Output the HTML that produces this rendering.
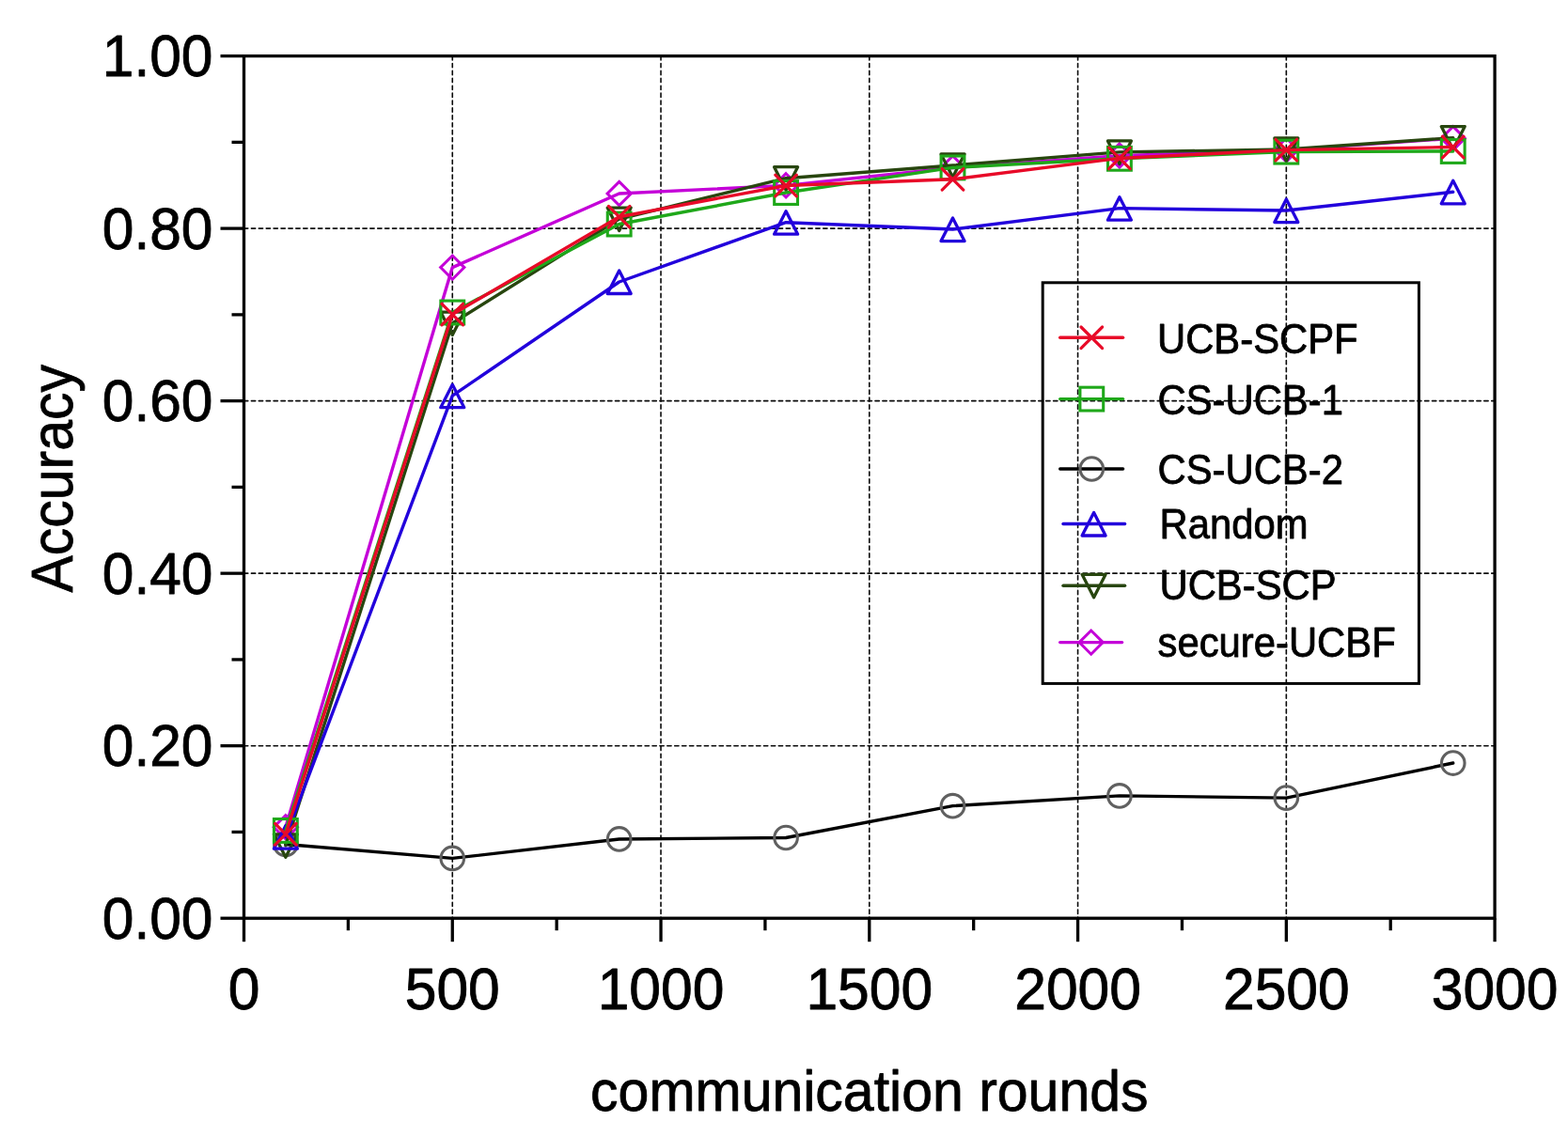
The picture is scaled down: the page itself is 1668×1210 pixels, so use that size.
<!DOCTYPE html>
<html lang="en"><head><meta charset="utf-8"><title>Accuracy vs communication rounds</title>
<style>html,body{margin:0;padding:0;background:#fff}body{width:1668px;height:1210px;overflow:hidden}svg{display:block}text{font-family:"Liberation Sans",sans-serif;fill:#000}</style>
</head><body>
<svg width="1668" height="1210" viewBox="0 0 1668 1210">
<rect x="0" y="0" width="1668" height="1210" fill="#ffffff"/>
<g>
<line x1="481.27" y1="59.60" x2="481.27" y2="977.20" stroke="#0a0a0a" stroke-width="1.6" stroke-dasharray="4.3 3.6" stroke-linecap="round" fill="none"/>
<line x1="703.03" y1="59.60" x2="703.03" y2="977.20" stroke="#0a0a0a" stroke-width="1.6" stroke-dasharray="4.3 3.6" stroke-linecap="round" fill="none"/>
<line x1="924.80" y1="59.60" x2="924.80" y2="977.20" stroke="#0a0a0a" stroke-width="1.6" stroke-dasharray="4.3 3.6" stroke-linecap="round" fill="none"/>
<line x1="1146.57" y1="59.60" x2="1146.57" y2="977.20" stroke="#0a0a0a" stroke-width="1.6" stroke-dasharray="4.3 3.6" stroke-linecap="round" fill="none"/>
<line x1="1368.33" y1="59.60" x2="1368.33" y2="977.20" stroke="#0a0a0a" stroke-width="1.6" stroke-dasharray="4.3 3.6" stroke-linecap="round" fill="none"/>
<line x1="259.50" y1="793.68" x2="1590.10" y2="793.68" stroke="#0a0a0a" stroke-width="1.6" stroke-dasharray="4.3 3.6" stroke-linecap="round" fill="none"/>
<line x1="259.50" y1="610.16" x2="1590.10" y2="610.16" stroke="#0a0a0a" stroke-width="1.6" stroke-dasharray="4.3 3.6" stroke-linecap="round" fill="none"/>
<line x1="259.50" y1="426.64" x2="1590.10" y2="426.64" stroke="#0a0a0a" stroke-width="1.6" stroke-dasharray="4.3 3.6" stroke-linecap="round" fill="none"/>
<line x1="259.50" y1="243.12" x2="1590.10" y2="243.12" stroke="#0a0a0a" stroke-width="1.6" stroke-dasharray="4.3 3.6" stroke-linecap="round" fill="none"/>
</g>
<g>
<polyline points="303.85,898.47 481.27,913.43 658.68,892.96 836.09,891.50 1013.51,857.64 1190.92,846.90 1368.33,849.10 1545.75,812.03" fill="none" stroke="#000000" stroke-width="3.4" stroke-linejoin="round" stroke-linecap="round"/>
<circle cx="303.85" cy="898.47" r="12.3" fill="none" stroke="#606060" stroke-width="3.1"/>
<circle cx="481.27" cy="913.43" r="12.3" fill="none" stroke="#606060" stroke-width="3.1"/>
<circle cx="658.68" cy="892.96" r="12.3" fill="none" stroke="#606060" stroke-width="3.1"/>
<circle cx="836.09" cy="891.50" r="12.3" fill="none" stroke="#606060" stroke-width="3.1"/>
<circle cx="1013.51" cy="857.64" r="12.3" fill="none" stroke="#606060" stroke-width="3.1"/>
<circle cx="1190.92" cy="846.90" r="12.3" fill="none" stroke="#606060" stroke-width="3.1"/>
<circle cx="1368.33" cy="849.10" r="12.3" fill="none" stroke="#606060" stroke-width="3.1"/>
<circle cx="1545.75" cy="812.03" r="12.3" fill="none" stroke="#606060" stroke-width="3.1"/>
<polyline points="303.85,880.21 481.27,284.60 658.68,205.96 836.09,197.33 1013.51,178.52 1190.92,165.58 1368.33,159.62 1545.75,147.23" fill="none" stroke="#C400D8" stroke-width="3.4" stroke-linejoin="round" stroke-linecap="round"/>
<path d="M303.85 867.61L316.45 880.21L303.85 892.81L291.25 880.21Z" fill="none" stroke="#C400D8" stroke-width="3.0" stroke-linejoin="miter"/>
<path d="M481.27 272.00L493.87 284.60L481.27 297.20L468.67 284.60Z" fill="none" stroke="#C400D8" stroke-width="3.0" stroke-linejoin="miter"/>
<path d="M658.68 193.36L671.28 205.96L658.68 218.56L646.08 205.96Z" fill="none" stroke="#C400D8" stroke-width="3.0" stroke-linejoin="miter"/>
<path d="M836.09 184.73L848.69 197.33L836.09 209.93L823.49 197.33Z" fill="none" stroke="#C400D8" stroke-width="3.0" stroke-linejoin="miter"/>
<path d="M1013.51 165.92L1026.11 178.52L1013.51 191.12L1000.91 178.52Z" fill="none" stroke="#C400D8" stroke-width="3.0" stroke-linejoin="miter"/>
<path d="M1190.92 152.98L1203.52 165.58L1190.92 178.18L1178.32 165.58Z" fill="none" stroke="#C400D8" stroke-width="3.0" stroke-linejoin="miter"/>
<path d="M1368.33 147.02L1380.93 159.62L1368.33 172.22L1355.73 159.62Z" fill="none" stroke="#C400D8" stroke-width="3.0" stroke-linejoin="miter"/>
<path d="M1545.75 134.63L1558.35 147.23L1545.75 159.83L1533.15 147.23Z" fill="none" stroke="#C400D8" stroke-width="3.0" stroke-linejoin="miter"/>
<polyline points="303.85,899.85 481.27,344.06 658.68,233.03 836.09,189.72 1013.51,175.95 1190.92,161.91 1368.33,158.98 1545.75,146.59" fill="none" stroke="#28460F" stroke-width="3.4" stroke-linejoin="round" stroke-linecap="round"/>
<path d="M303.85 912.35L316.35 887.85L291.35 887.85Z" fill="none" stroke="#28460F" stroke-width="3.3" stroke-linejoin="round"/>
<path d="M481.27 356.56L493.77 332.06L468.77 332.06Z" fill="none" stroke="#28460F" stroke-width="3.3" stroke-linejoin="round"/>
<path d="M658.68 245.53L671.18 221.03L646.18 221.03Z" fill="none" stroke="#28460F" stroke-width="3.3" stroke-linejoin="round"/>
<path d="M836.09 202.22L848.59 177.72L823.59 177.72Z" fill="none" stroke="#28460F" stroke-width="3.3" stroke-linejoin="round"/>
<path d="M1013.51 188.45L1026.01 163.95L1001.01 163.95Z" fill="none" stroke="#28460F" stroke-width="3.3" stroke-linejoin="round"/>
<path d="M1190.92 174.41L1203.42 149.91L1178.42 149.91Z" fill="none" stroke="#28460F" stroke-width="3.3" stroke-linejoin="round"/>
<path d="M1368.33 171.48L1380.83 146.98L1355.83 146.98Z" fill="none" stroke="#28460F" stroke-width="3.3" stroke-linejoin="round"/>
<path d="M1545.75 159.09L1558.25 134.59L1533.25 134.59Z" fill="none" stroke="#28460F" stroke-width="3.3" stroke-linejoin="round"/>
<polyline points="303.85,890.67 481.27,421.13 658.68,300.01 836.09,236.70 1013.51,244.04 1190.92,221.65 1368.33,224.03 1545.75,204.31" fill="none" stroke="#2200DC" stroke-width="3.4" stroke-linejoin="round" stroke-linecap="round"/>
<path d="M303.85 878.67L316.35 903.17L291.35 903.17Z" fill="none" stroke="#2200DC" stroke-width="3.3" stroke-linejoin="round"/>
<path d="M481.27 409.13L493.77 433.63L468.77 433.63Z" fill="none" stroke="#2200DC" stroke-width="3.3" stroke-linejoin="round"/>
<path d="M658.68 288.01L671.18 312.51L646.18 312.51Z" fill="none" stroke="#2200DC" stroke-width="3.3" stroke-linejoin="round"/>
<path d="M836.09 224.70L848.59 249.20L823.59 249.20Z" fill="none" stroke="#2200DC" stroke-width="3.3" stroke-linejoin="round"/>
<path d="M1013.51 232.04L1026.01 256.54L1001.01 256.54Z" fill="none" stroke="#2200DC" stroke-width="3.3" stroke-linejoin="round"/>
<path d="M1190.92 209.65L1203.42 234.15L1178.42 234.15Z" fill="none" stroke="#2200DC" stroke-width="3.3" stroke-linejoin="round"/>
<path d="M1368.33 212.03L1380.83 236.53L1355.83 236.53Z" fill="none" stroke="#2200DC" stroke-width="3.3" stroke-linejoin="round"/>
<path d="M1545.75 192.31L1558.25 216.81L1533.25 216.81Z" fill="none" stroke="#2200DC" stroke-width="3.3" stroke-linejoin="round"/>
<polyline points="303.85,883.97 481.27,332.49 658.68,238.53 836.09,205.04 1013.51,178.43 1190.92,168.79 1368.33,161.64 1545.75,160.99" fill="none" stroke="#1FA81A" stroke-width="3.4" stroke-linejoin="round" stroke-linecap="round"/>
<rect x="291.45" y="871.57" width="24.80" height="24.80" fill="none" stroke="#1FA81A" stroke-width="3.1" stroke-linejoin="miter"/>
<rect x="468.87" y="320.09" width="24.80" height="24.80" fill="none" stroke="#1FA81A" stroke-width="3.1" stroke-linejoin="miter"/>
<rect x="646.28" y="226.13" width="24.80" height="24.80" fill="none" stroke="#1FA81A" stroke-width="3.1" stroke-linejoin="miter"/>
<rect x="823.69" y="192.64" width="24.80" height="24.80" fill="none" stroke="#1FA81A" stroke-width="3.1" stroke-linejoin="miter"/>
<rect x="1001.11" y="166.03" width="24.80" height="24.80" fill="none" stroke="#1FA81A" stroke-width="3.1" stroke-linejoin="miter"/>
<rect x="1178.52" y="156.39" width="24.80" height="24.80" fill="none" stroke="#1FA81A" stroke-width="3.1" stroke-linejoin="miter"/>
<rect x="1355.93" y="149.24" width="24.80" height="24.80" fill="none" stroke="#1FA81A" stroke-width="3.1" stroke-linejoin="miter"/>
<rect x="1533.35" y="148.59" width="24.80" height="24.80" fill="none" stroke="#1FA81A" stroke-width="3.1" stroke-linejoin="miter"/>
<polyline points="303.85,887.73 481.27,334.60 658.68,230.73 836.09,197.52 1013.51,190.82 1190.92,168.43 1368.33,159.62 1545.75,156.50" fill="none" stroke="#E80A28" stroke-width="3.4" stroke-linejoin="round" stroke-linecap="round"/>
<path d="M292.55 876.43L315.15 899.03M292.55 899.03L315.15 876.43" fill="none" stroke="#E80A28" stroke-width="3.2" stroke-linecap="round"/>
<path d="M469.97 323.30L492.57 345.90M469.97 345.90L492.57 323.30" fill="none" stroke="#E80A28" stroke-width="3.2" stroke-linecap="round"/>
<path d="M647.38 219.43L669.98 242.03M647.38 242.03L669.98 219.43" fill="none" stroke="#E80A28" stroke-width="3.2" stroke-linecap="round"/>
<path d="M824.79 186.22L847.39 208.82M824.79 208.82L847.39 186.22" fill="none" stroke="#E80A28" stroke-width="3.2" stroke-linecap="round"/>
<path d="M1002.21 179.52L1024.81 202.12M1002.21 202.12L1024.81 179.52" fill="none" stroke="#E80A28" stroke-width="3.2" stroke-linecap="round"/>
<path d="M1179.62 157.13L1202.22 179.73M1179.62 179.73L1202.22 157.13" fill="none" stroke="#E80A28" stroke-width="3.2" stroke-linecap="round"/>
<path d="M1357.03 148.32L1379.63 170.92M1357.03 170.92L1379.63 148.32" fill="none" stroke="#E80A28" stroke-width="3.2" stroke-linecap="round"/>
<path d="M1534.45 145.20L1557.05 167.80M1534.45 167.80L1557.05 145.20" fill="none" stroke="#E80A28" stroke-width="3.2" stroke-linecap="round"/>
</g>
<g>
<rect x="259.50" y="59.60" width="1330.60" height="917.60" stroke="#000" stroke-width="3.3" fill="none"/>
<line x1="234.50" y1="977.20" x2="259.50" y2="977.20" stroke="#000" stroke-width="3.3" fill="none"/>
<line x1="246.50" y1="885.44" x2="259.50" y2="885.44" stroke="#000" stroke-width="3.3" fill="none"/>
<line x1="234.50" y1="793.68" x2="259.50" y2="793.68" stroke="#000" stroke-width="3.3" fill="none"/>
<line x1="246.50" y1="701.92" x2="259.50" y2="701.92" stroke="#000" stroke-width="3.3" fill="none"/>
<line x1="234.50" y1="610.16" x2="259.50" y2="610.16" stroke="#000" stroke-width="3.3" fill="none"/>
<line x1="246.50" y1="518.40" x2="259.50" y2="518.40" stroke="#000" stroke-width="3.3" fill="none"/>
<line x1="234.50" y1="426.64" x2="259.50" y2="426.64" stroke="#000" stroke-width="3.3" fill="none"/>
<line x1="246.50" y1="334.88" x2="259.50" y2="334.88" stroke="#000" stroke-width="3.3" fill="none"/>
<line x1="234.50" y1="243.12" x2="259.50" y2="243.12" stroke="#000" stroke-width="3.3" fill="none"/>
<line x1="246.50" y1="151.36" x2="259.50" y2="151.36" stroke="#000" stroke-width="3.3" fill="none"/>
<line x1="234.50" y1="59.60" x2="259.50" y2="59.60" stroke="#000" stroke-width="3.3" fill="none"/>
<line x1="259.50" y1="977.20" x2="259.50" y2="1002.20" stroke="#000" stroke-width="3.3" fill="none"/>
<line x1="370.38" y1="977.20" x2="370.38" y2="990.20" stroke="#000" stroke-width="3.3" fill="none"/>
<line x1="481.27" y1="977.20" x2="481.27" y2="1002.20" stroke="#000" stroke-width="3.3" fill="none"/>
<line x1="592.15" y1="977.20" x2="592.15" y2="990.20" stroke="#000" stroke-width="3.3" fill="none"/>
<line x1="703.03" y1="977.20" x2="703.03" y2="1002.20" stroke="#000" stroke-width="3.3" fill="none"/>
<line x1="813.92" y1="977.20" x2="813.92" y2="990.20" stroke="#000" stroke-width="3.3" fill="none"/>
<line x1="924.80" y1="977.20" x2="924.80" y2="1002.20" stroke="#000" stroke-width="3.3" fill="none"/>
<line x1="1035.68" y1="977.20" x2="1035.68" y2="990.20" stroke="#000" stroke-width="3.3" fill="none"/>
<line x1="1146.57" y1="977.20" x2="1146.57" y2="1002.20" stroke="#000" stroke-width="3.3" fill="none"/>
<line x1="1257.45" y1="977.20" x2="1257.45" y2="990.20" stroke="#000" stroke-width="3.3" fill="none"/>
<line x1="1368.33" y1="977.20" x2="1368.33" y2="1002.20" stroke="#000" stroke-width="3.3" fill="none"/>
<line x1="1479.22" y1="977.20" x2="1479.22" y2="990.20" stroke="#000" stroke-width="3.3" fill="none"/>
<line x1="1590.10" y1="977.20" x2="1590.10" y2="1002.20" stroke="#000" stroke-width="3.3" fill="none"/>
</g>
<g>
<text transform="translate(226.50 998.60) scale(1 1.045)" font-size="60.5" text-anchor="end" stroke="#000" stroke-width="0.8" stroke-linejoin="round">0.00</text>
<text transform="translate(226.50 815.08) scale(1 1.045)" font-size="60.5" text-anchor="end" stroke="#000" stroke-width="0.8" stroke-linejoin="round">0.20</text>
<text transform="translate(226.50 631.56) scale(1 1.045)" font-size="60.5" text-anchor="end" stroke="#000" stroke-width="0.8" stroke-linejoin="round">0.40</text>
<text transform="translate(226.50 448.04) scale(1 1.045)" font-size="60.5" text-anchor="end" stroke="#000" stroke-width="0.8" stroke-linejoin="round">0.60</text>
<text transform="translate(226.50 264.52) scale(1 1.045)" font-size="60.5" text-anchor="end" stroke="#000" stroke-width="0.8" stroke-linejoin="round">0.80</text>
<text transform="translate(226.50 81.00) scale(1 1.045)" font-size="60.5" text-anchor="end" stroke="#000" stroke-width="0.8" stroke-linejoin="round">1.00</text>
<text transform="translate(259.50 1074.00) scale(1 1.045)" font-size="60.6" text-anchor="middle" stroke="#000" stroke-width="0.8" stroke-linejoin="round">0</text>
<text transform="translate(481.27 1074.00) scale(1 1.045)" font-size="60.6" text-anchor="middle" stroke="#000" stroke-width="0.8" stroke-linejoin="round">500</text>
<text transform="translate(703.03 1074.00) scale(1 1.045)" font-size="60.6" text-anchor="middle" stroke="#000" stroke-width="0.8" stroke-linejoin="round">1000</text>
<text transform="translate(924.80 1074.00) scale(1 1.045)" font-size="60.6" text-anchor="middle" stroke="#000" stroke-width="0.8" stroke-linejoin="round">1500</text>
<text transform="translate(1146.57 1074.00) scale(1 1.045)" font-size="60.6" text-anchor="middle" stroke="#000" stroke-width="0.8" stroke-linejoin="round">2000</text>
<text transform="translate(1368.33 1074.00) scale(1 1.045)" font-size="60.6" text-anchor="middle" stroke="#000" stroke-width="0.8" stroke-linejoin="round">2500</text>
<text transform="translate(1590.10 1074.00) scale(1 1.045)" font-size="60.6" text-anchor="middle" stroke="#000" stroke-width="0.8" stroke-linejoin="round">3000</text>
</g>
<text transform="translate(924.80 1181.60) scale(1 1.03)" font-size="59" text-anchor="middle" stroke="#000" stroke-width="0.8" stroke-linejoin="round">communication rounds</text>
<text transform="translate(77.00 509.30) rotate(-90) scale(1 1.07)" font-size="59" text-anchor="middle" stroke="#000" stroke-width="0.8" stroke-linejoin="round">Accuracy</text>
<g>
<rect x="1109.2" y="300.8" width="400.2" height="426.6" fill="none" stroke="#000" stroke-width="3"/>
<line x1="1127.7" y1="359.3" x2="1194.6" y2="359.3" stroke="#E80A28" stroke-width="3.4" stroke-linecap="round"/>
<path d="M1150.00 348.00L1172.60 370.60M1150.00 370.60L1172.60 348.00" fill="none" stroke="#E80A28" stroke-width="3.2" stroke-linecap="round"/>
<text transform="translate(1231.00 375.60) scale(1 1.045)" font-size="41.8" text-anchor="start" stroke="#000" stroke-width="0.8" stroke-linejoin="round">UCB-SCPF</text>
<line x1="1127.7" y1="424.6" x2="1194.6" y2="424.6" stroke="#1FA81A" stroke-width="3.4" stroke-linecap="round"/>
<rect x="1148.90" y="412.20" width="24.80" height="24.80" fill="none" stroke="#1FA81A" stroke-width="3.1" stroke-linejoin="miter"/>
<text transform="translate(1231.50 441.00) scale(1 1.045)" font-size="41.8" text-anchor="start" stroke="#000" stroke-width="0.8" stroke-linejoin="round">CS-UCB-1</text>
<line x1="1127.7" y1="499.0" x2="1194.6" y2="499.0" stroke="#000000" stroke-width="3.4" stroke-linecap="round"/>
<circle cx="1161.30" cy="499.00" r="12.3" fill="none" stroke="#606060" stroke-width="3.1"/>
<text transform="translate(1231.50 515.40) scale(1 1.045)" font-size="41.8" text-anchor="start" stroke="#000" stroke-width="0.8" stroke-linejoin="round">CS-UCB-2</text>
<line x1="1131.0" y1="557.5" x2="1196.6" y2="557.5" stroke="#2200DC" stroke-width="3.4" stroke-linecap="round"/>
<path d="M1163.60 545.50L1176.10 570.00L1151.10 570.00Z" fill="none" stroke="#2200DC" stroke-width="3.3" stroke-linejoin="round"/>
<text transform="translate(1233.50 573.10) scale(1 1.045)" font-size="41.8" text-anchor="start" stroke="#000" stroke-width="0.8" stroke-linejoin="round">Random</text>
<line x1="1131.0" y1="623.3" x2="1196.6" y2="623.3" stroke="#28460F" stroke-width="3.4" stroke-linecap="round"/>
<path d="M1163.60 635.80L1176.10 611.30L1151.10 611.30Z" fill="none" stroke="#28460F" stroke-width="3.3" stroke-linejoin="round"/>
<text transform="translate(1233.50 638.30) scale(1 1.045)" font-size="41.8" text-anchor="start" stroke="#000" stroke-width="0.8" stroke-linejoin="round">UCB-SCP</text>
<line x1="1127.7" y1="683.6" x2="1193.6" y2="683.6" stroke="#C400D8" stroke-width="3.4" stroke-linecap="round"/>
<path d="M1160.70 671.00L1173.30 683.60L1160.70 696.20L1148.10 683.60Z" fill="none" stroke="#C400D8" stroke-width="3.0" stroke-linejoin="miter"/>
<text transform="translate(1231.50 699.00) scale(1 1.045)" font-size="41.8" text-anchor="start" stroke="#000" stroke-width="0.8" stroke-linejoin="round">secure-UCBF</text>
</g>
</svg>
</body></html>
